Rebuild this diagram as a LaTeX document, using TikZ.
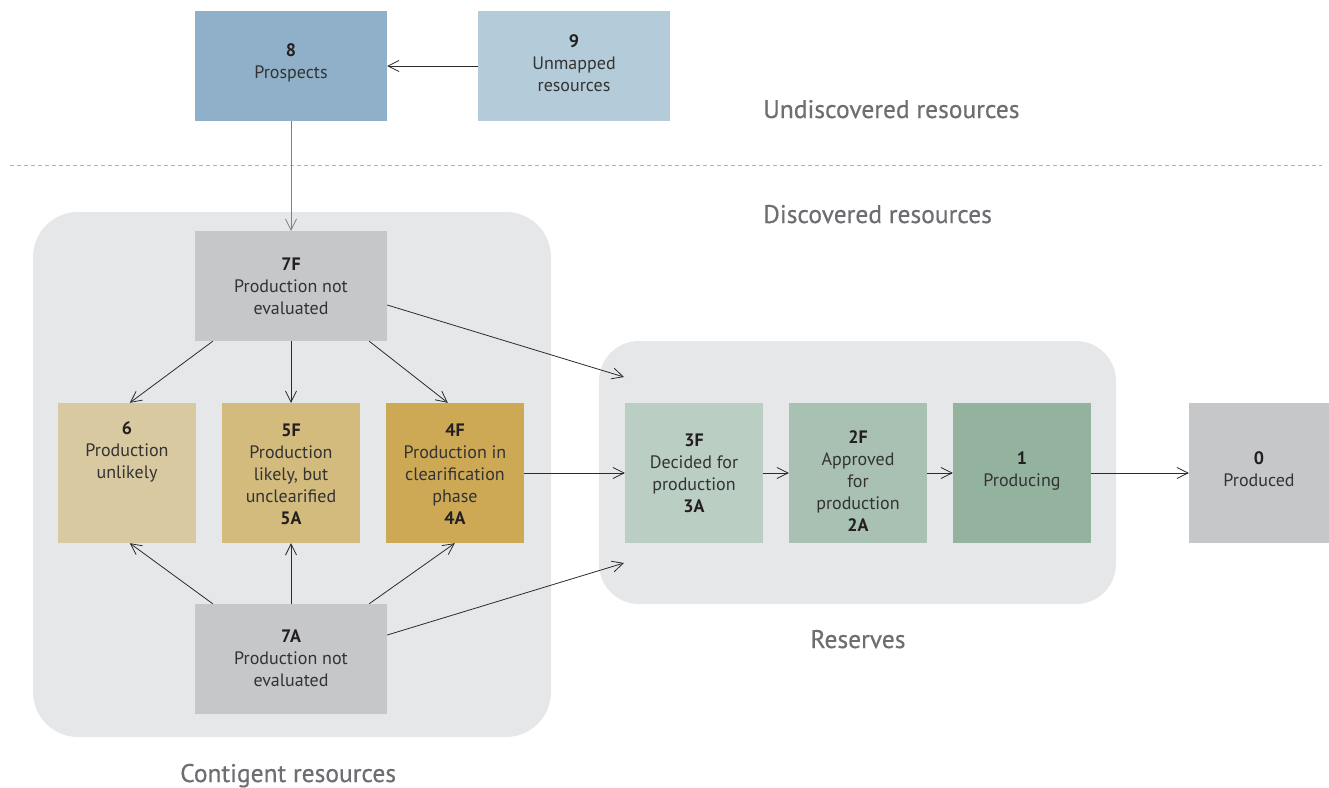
\documentclass[tikz,border=0pt]{standalone}
\usepackage{fontspec}
\setmainfont{PT Sans}
\newfontfamily\labfont{PT Sans}[FakeBold=0.5]
\usetikzlibrary{arrows.meta}
\definecolor{cprosp}{HTML}{8FB0C8}
\definecolor{cunmap}{HTML}{B4CBD9}
\definecolor{cregion}{HTML}{E6E7E9}
\definecolor{cgrey}{HTML}{C6C7C9}
\definecolor{csix}{HTML}{D9C9A0}
\definecolor{cfive}{HTML}{D3BB7D}
\definecolor{cfour}{HTML}{CDA956}
\definecolor{cthree}{HTML}{BBCEC4}
\definecolor{ctwo}{HTML}{A8C1B2}
\definecolor{cone}{HTML}{94B39E}
\definecolor{ctxt}{HTML}{333333}
\definecolor{cnum}{HTML}{231F20}
\definecolor{clab}{HTML}{6D6E71}
\definecolor{cline}{HTML}{2B2B2B}
\definecolor{cdash}{HTML}{A3B8B2}
\newcommand{\num}[1]{{\bfseries\color{cnum}#1}}
\begin{document}
\begin{tikzpicture}[x=1pt,y=-1pt,
  box/.style={inner sep=0pt},
  widebox/.style={box, minimum width=192pt, minimum height=110pt},
  sqbox/.style={box, minimum width=138pt, minimum height=140pt},
  txt/.style={inner sep=0pt, align=center, font=\fontsize{18}{22}\selectfont, text=ctxt},
  region/.style={fill=cregion, rounded corners=45pt, inner sep=0pt},
  lab/.style={font=\labfont\fontsize{25.5}{30}\selectfont, text=clab, inner sep=0pt},
  arr/.style={draw=cline, line width=0.8pt, -{Straight Barb[length=11pt,width=11pt,line width=0.8pt]}}
]
\useasboundingbox (0,0) rectangle (1329,787);

% regions
\node[region, minimum width=518pt, minimum height=525pt] (contig) at (292,474.5) {};
\node[region, rounded corners=40pt, minimum width=517pt, minimum height=263pt] (reserves) at (857.5,472.5) {};

% dashed separator
\coordinate (dl) at (10,165);
\coordinate (dr) at (1322,165);
\draw[cdash, line width=0.8pt, dash pattern=on 4pt off 3pt] (dl) -- (dr);

% labels
\node[lab, anchor=base west] (lundisc) at (763,118) {Undiscovered resources};
\node[lab, anchor=base west] (ldisc) at (763,223) {Discovered resources};
\node[lab, anchor=base] (lres) at (858,648) {Reserves};
\node[lab, anchor=base west] (lcont) at (180,782) {Contigent resources};

% boxes
\node[widebox, fill=cprosp] (n8) at (291,66) {};
\node[widebox, fill=cunmap] (n9) at (574,66) {};
\node[widebox, fill=cgrey] (n7F) at (291,286) {};
\node[widebox, fill=cgrey] (n7A) at (291,659) {};
\node[sqbox, fill=csix] (n6) at (127,473) {};
\node[sqbox, fill=cfive] (n5F) at (291,473) {};
\node[sqbox, fill=cfour] (n4F) at (455,473) {};
\node[sqbox, fill=cthree] (n3F) at (694,473) {};
\node[sqbox, fill=ctwo] (n2F) at (858,473) {};
\node[sqbox, fill=cone] (n1) at (1022,473) {};
\node[box, minimum width=140pt, minimum height=140pt, fill=cgrey] (n0) at (1259,473) {};

% box texts
\node[txt] (t8) at (291,63) {\num{8}\\Prospects};
\node[txt] (t9) at (574,63) {\num{9}\\Unmapped\\resources};
\node[txt] (t7F) at (291,286) {\num{7F}\\Production not\\evaluated};
\node[txt] (t7A) at (291,658) {\num{7A}\\Production not\\evaluated};
\node[txt] (t6) at (127,452) {\num{6}\\Production\\unlikely};
\node[txt] (t5F) at (291,474) {\num{5F}\\Production\\likely, but\\unclearified\\\num{5A}};
\node[txt] (t4F) at (455,474) {\num{4F}\\Production in\\clearification\\phase\\\num{4A}};
\node[txt] (t3F) at (694,473) {\num{3F}\\Decided for\\production\\\num{3A}};
\node[txt] (t2F) at (858,481) {\num{2F}\\Approved\\for\\production\\\num{2A}};
\node[txt] (t1) at (1022,471) {\num{1}\\Producing};
\node[txt] (t0) at (1259,469) {\num{0}\\Produced};

% free ends on reserves region
\coordinate (r1) at (624,377);
\coordinate (r2) at (624,563);

% connectors
\draw[arr] (n9.west) -- (n8.east);
\draw[arr, draw=gray] (n8.south) -- (n7F.north);
\draw[arr] ([xshift=18pt]n7F.south west) -- ([xshift=72pt]n6.north west);
\draw[arr] (n7F.south) -- (n5F.north);
\draw[arr] ([xshift=-18pt]n7F.south east) -- ([xshift=62pt]n4F.north west);
\draw[arr] ([yshift=-19pt]n7F.east) -- (r1);
\draw[arr] ([xshift=18pt]n7A.north west) -- ([xshift=72pt]n6.south west);
\draw[arr] (n7A.north) -- (n5F.south);
\draw[arr] ([xshift=-18pt]n7A.north east) -- ([xshift=69pt]n4F.south west);
\draw[arr] ([yshift=24pt]n7A.east) -- (r2);
\draw[arr] (n4F.east) -- (n3F.west);
\draw[arr] (n3F.east) -- (n2F.west);
\draw[arr] (n2F.east) -- (n1.west);
\draw[arr] (n1.east) -- (n0.west);
\end{tikzpicture}
\end{document}
